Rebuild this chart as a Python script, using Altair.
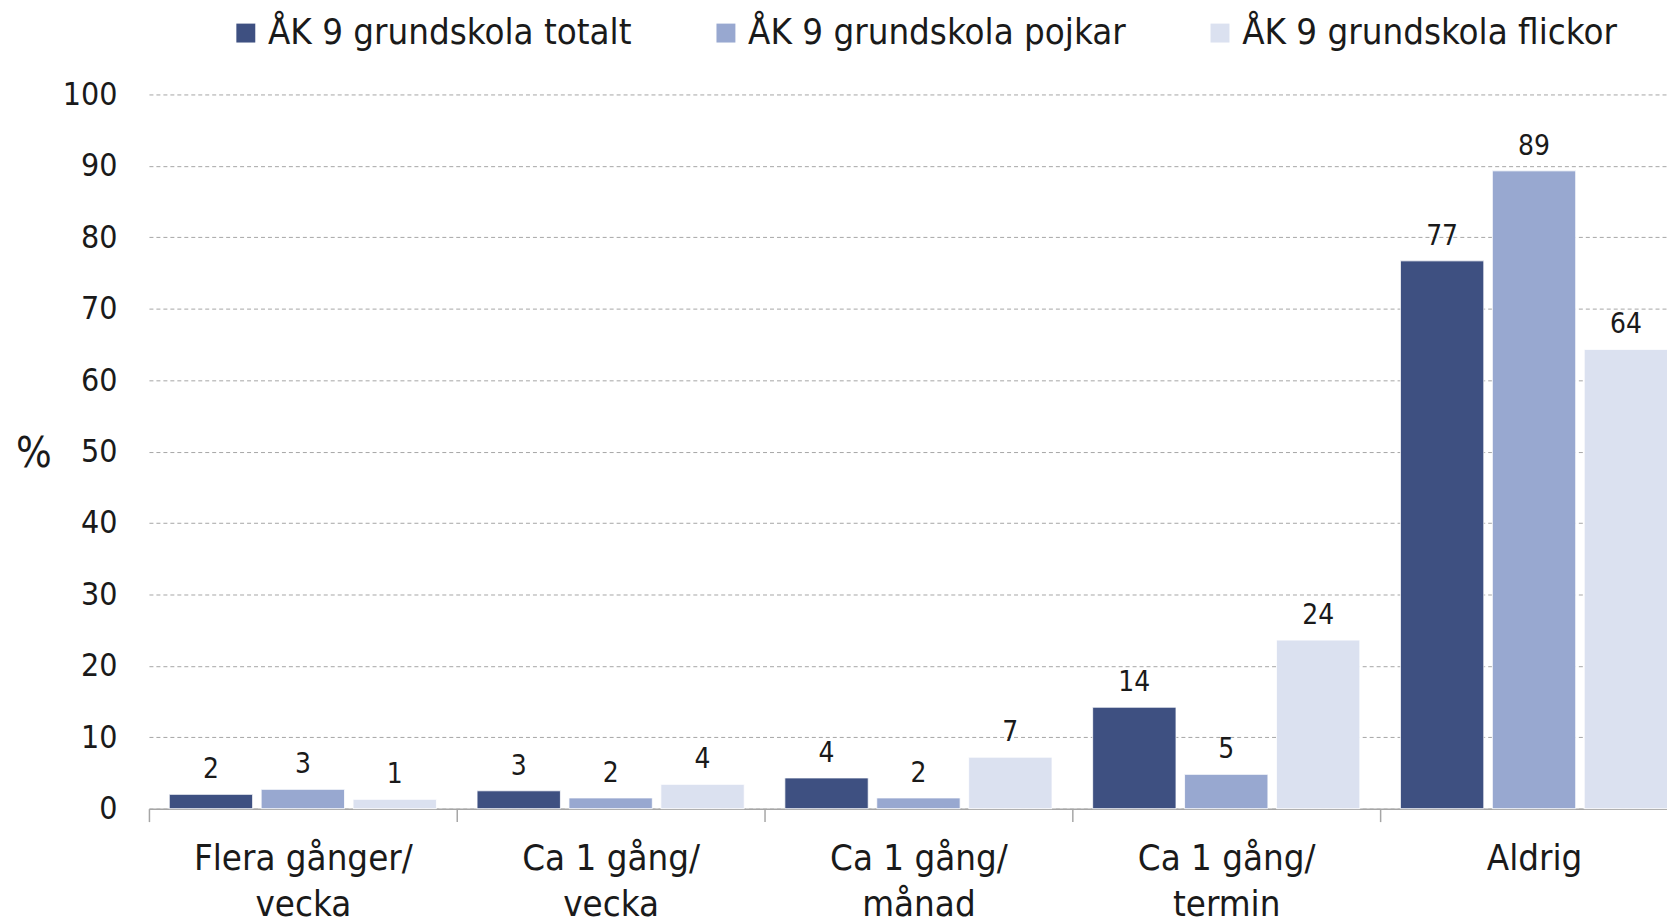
import altair as alt
import pandas as pd

categories = ["Flera gånger/\nvecka", "Ca 1 gång/\nvecka", "Ca 1 gång/\nmånad", "Ca 1 gång/\ntermin", "Aldrig"]
series = ["ÅK 9 grundskola totalt", "ÅK 9 grundskola pojkar", "ÅK 9 grundskola flickor"]
colors = ["#3e5081", "#98a8d0", "#dbe1f0"]

totalt = [2.0, 2.5, 4.3, 14.2, 76.7]
pojkar = [2.7, 1.5, 1.5, 4.8, 89.3]
flickor = [1.3, 3.4, 7.2, 23.6, 64.3]

totalt_labels = ["2", "3", "4", "14", "77"]
pojkar_labels = ["3", "2", "2", "5", "89"]
flickor_labels = ["1", "4", "7", "24", "64"]

rows = []
for s, vals, labs in zip(series, [totalt, pojkar, flickor], [totalt_labels, pojkar_labels, flickor_labels]):
    for c, v, l in zip(categories, vals, labs):
        rows.append({"cat": c, "series": s, "value": v, "label": l})
df = pd.DataFrame(rows)

FONT = "DejaVu Sans Condensed, Liberation Sans Narrow, Roboto, sans-serif"
GRID = "#a6a6a6"

base = alt.Chart(df).encode(
    x=alt.X(
        "cat:N",
        sort=categories,
        scale=alt.Scale(paddingInner=0, paddingOuter=0),
        axis=alt.Axis(
            title=None,
            labelAngle=0,
            tickBand="extent",
            tickSize=13,
            tickColor=GRID,
            tickWidth=1.5,
            domainColor=GRID,
            domainWidth=1.5,
            labelExpr="split(datum.label, '\\n')",
            labelFontSize=36.5,
            labelLineHeight=46,
            labelPadding=19,
            labelBaseline="top",
            labelColor="#1a1a1a",
            labelLimit=500,
            labelFont=FONT,
        ),
    ),
    xOffset=alt.XOffset(
        "series:N", sort=series, scale=alt.Scale(paddingInner=0.093, paddingOuter=0.221)
    ),
    y=alt.Y(
        "value:Q",
        scale=alt.Scale(domain=[0, 100]),
        axis=alt.Axis(
            values=list(range(0, 101, 10)),
            grid=True,
            gridDash=[4, 3],
            gridColor=GRID,
            gridWidth=1,
            domain=False,
            ticks=False,
            labelPadding=32,
            labelFontSize=32,
            labelColor="#1a1a1a",
            labelFont=FONT,
            title="%",
            titleAngle=0,
            titleX=-116,
            titleY=361,
            titleFontSize=42,
            titleFontWeight="normal",
            titleAlign="center",
            titleBaseline="middle",
            titleColor="#1a1a1a",
            titleFont=FONT,
        ),
    ),
)

bars = base.mark_bar(stroke="white", strokeWidth=0.8).encode(
    color=alt.Color(
        "series:N",
        sort=series,
        scale=alt.Scale(domain=series, range=colors),
        legend=alt.Legend(
            orient="none",
            legendX=79,
            legendY=-80,
            direction="horizontal",
            title=None,
            symbolType="square",
            symbolSize=361,
            symbolStrokeWidth=0,
            labelFontSize=36.5,
            labelFont=FONT,
            labelColor="#1a1a1a",
            labelLimit=600,
            labelOffset=4,
            columnPadding=76,
        ),
    )
)

text = base.mark_text(baseline="alphabetic", dy=-16, fontSize=28, color="#1a1a1a", font=FONT).encode(
    text="label:N"
)

chart = (
    alt.layer(bars, text)
    .properties(
        width=1545,
        height=717,
        padding={"left": 141.5, "top": 85, "right": -21, "bottom": 112},
        autosize=alt.AutoSizeParams(type="none"),
    )
    .configure_view(stroke=None)
)

chart.save("out.html", embed_options={"renderer": "svg", "actions": False})
